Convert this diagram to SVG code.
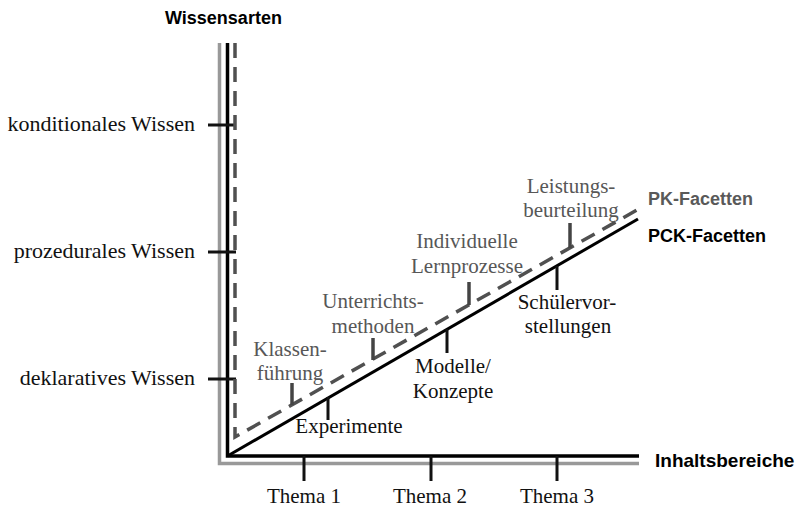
<svg xmlns="http://www.w3.org/2000/svg" width="795" height="508" viewBox="0 0 795 508">
  <style>
    .serif { font-family: "Liberation Serif", "Times New Roman", serif; font-size: 21px; }
    .big { font-size: 22px; }
    .pk { fill: #575757; }
    .pck { fill: #111; }
    .axislbl { font-family: "Liberation Sans", Arial, sans-serif; font-size: 18px; font-weight: bold; }
    .tick { stroke: #111; stroke-width: 3; fill: none; }
    .pktick { stroke: #444; stroke-width: 3.5; fill: none; }
  </style>
  <rect width="795" height="508" fill="#fff"/>

  <!-- axes -->
  <g id="axes">
    <path d="M219.5,43 V463.5 H639" fill="none" stroke="#999" stroke-width="3.5"/>
    <path d="M227.5,43 V456 H639" fill="none" stroke="#000" stroke-width="3.5"/>
    <text class="axislbl" x="165" y="24" fill="#000">Wissensarten</text>
    <text class="axislbl" x="655" y="467" fill="#000" style="font-size:19px">Inhaltsbereiche</text>
  </g>

  <!-- knowledge types on the vertical axis -->
  <g id="wissensarten">
    <line class="tick" x1="208" y1="125" x2="236" y2="125"/>
    <line class="tick" x1="208" y1="252" x2="236" y2="252"/>
    <line class="tick" x1="208" y1="379" x2="236" y2="379"/>
    <text class="serif big pck" x="195" y="131" text-anchor="end">konditionales Wissen</text>
    <text class="serif big pck" x="195" y="258" text-anchor="end">prozedurales Wissen</text>
    <text class="serif big pck" x="195" y="385" text-anchor="end">deklaratives Wissen</text>
  </g>

  <!-- content areas on the horizontal axis -->
  <g id="themen">
    <line class="tick" x1="304" y1="456" x2="304" y2="481"/>
    <line class="tick" x1="431" y1="456" x2="431" y2="481"/>
    <line class="tick" x1="557" y1="456" x2="557" y2="481"/>
    <text class="serif pck" x="304" y="503" text-anchor="middle">Thema 1</text>
    <text class="serif pck" x="430" y="503" text-anchor="middle">Thema 2</text>
    <text class="serif pck" x="557" y="503" text-anchor="middle">Thema 3</text>
  </g>

  <!-- facet lines -->
  <g id="connectors">
    <path id="pk-line" d="M235,43 V437 L637,210" fill="none" stroke="#505050" stroke-width="3.5" stroke-dasharray="15 9"/>
    <path id="pck-line" d="M227.5,456 L638,219" fill="none" stroke="#000" stroke-width="3"/>
  </g>

  <g id="pk-facetten">
    <text class="axislbl" x="648" y="205" fill="#595959">PK-Facetten</text>
    <g id="klassenfuehrung">
      <line class="pktick" x1="292" y1="383" x2="292" y2="405"/>
      <text class="serif pk" x="290" y="356" text-anchor="middle">Klassen-</text>
      <text class="serif pk" x="290" y="380" text-anchor="middle">führung</text>
    </g>
    <g id="unterrichtsmethoden">
      <line class="pktick" x1="373" y1="338" x2="373" y2="360"/>
      <text class="serif pk" x="373" y="308" text-anchor="middle">Unterrichts-</text>
      <text class="serif pk" x="373" y="333" text-anchor="middle">methoden</text>
    </g>
    <g id="lernprozesse">
      <line class="pktick" x1="469" y1="282" x2="469" y2="305"/>
      <text class="serif pk" x="467" y="248" text-anchor="middle">Individuelle</text>
      <text class="serif pk" x="467" y="273" text-anchor="middle">Lernprozesse</text>
    </g>
    <g id="leistungsbeurteilung">
      <line class="pktick" x1="570" y1="223" x2="570" y2="248"/>
      <text class="serif pk" x="571" y="193" text-anchor="middle">Leistungs-</text>
      <text class="serif pk" x="571" y="217" text-anchor="middle">beurteilung</text>
    </g>
  </g>

  <g id="pck-facetten">
    <text class="axislbl" x="648" y="242" fill="#000">PCK-Facetten</text>
    <g id="experimente">
      <line class="tick" x1="328" y1="397" x2="328" y2="420"/>
      <text class="serif pck" x="349" y="433" text-anchor="middle">Experimente</text>
    </g>
    <g id="modelle">
      <line class="tick" x1="447" y1="329" x2="447" y2="353"/>
      <text class="serif pck" x="453" y="373" text-anchor="middle">Modelle/</text>
      <text class="serif pck" x="453" y="398" text-anchor="middle">Konzepte</text>
    </g>
    <g id="schuelervorstellungen">
      <line class="tick" x1="557" y1="266" x2="557" y2="290"/>
      <text class="serif pck" x="567" y="309" text-anchor="middle">Schülervor-</text>
      <text class="serif pck" x="568" y="333" text-anchor="middle">stellungen</text>
    </g>
  </g>
</svg>
